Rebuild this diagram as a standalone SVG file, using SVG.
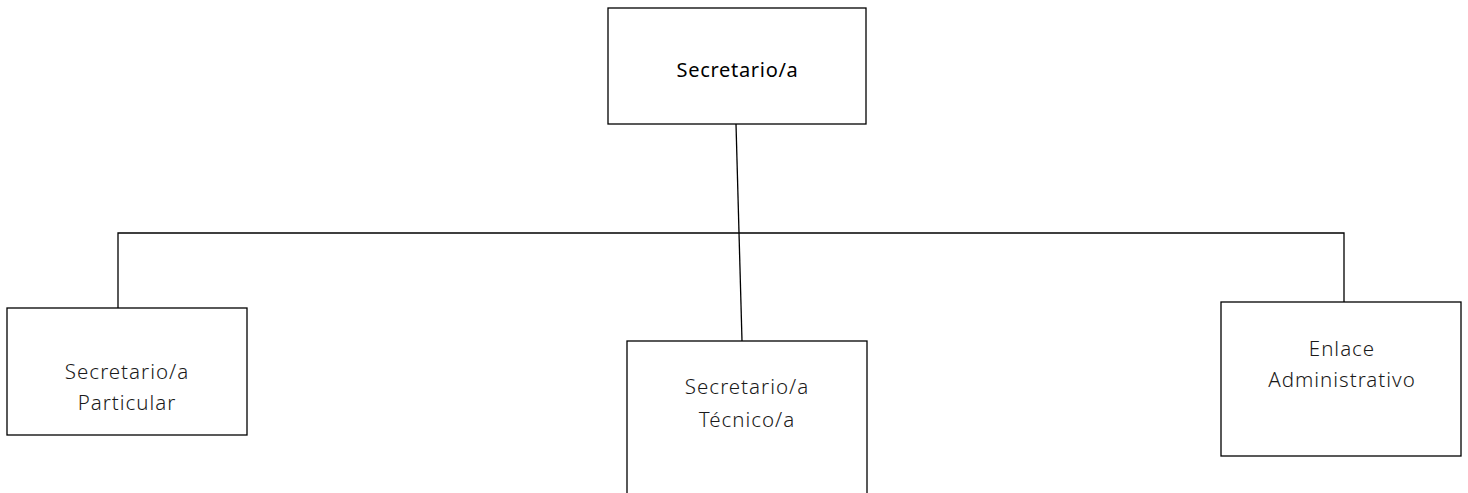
<svg xmlns="http://www.w3.org/2000/svg" width="1468" height="493" viewBox="0 0 1468 493">
<style>
.box{fill:#fff;stroke:#000;stroke-width:1.3}
.ln{fill:none;stroke:#000;stroke-width:1.3}
.t{font-family:"Noto Sans",Lato,sans-serif;font-size:20.5px;letter-spacing:1px;fill:#1a1a1a;text-anchor:middle;font-weight:300}
.tb{font-family:"Noto Sans",Lato,sans-serif;font-size:20px;letter-spacing:0.7px;fill:#000;text-anchor:middle;font-weight:400}
</style>
<rect width="1468" height="493" fill="#fff"/>
<g id="connectors">
<line class="ln" x1="736" y1="124" x2="742" y2="341"/>
<polyline class="ln" points="118,308 118,233 1344,233 1344,302"/>
</g>
<g id="n-secretario">
<rect class="box" x="608" y="8" width="258" height="116"/>
<text class="tb" x="737.5" y="77">Secretario/a</text>
</g>
<g id="n-particular">
<rect class="box" x="7" y="308" width="240" height="127"/>
<text class="t" x="127" y="379">Secretario/a</text>
<text class="t" x="127" y="410">Particular</text>
</g>
<g id="n-tecnico">
<rect class="box" x="627" y="341" width="240" height="170"/>
<text class="t" x="747" y="394">Secretario/a</text>
<text class="t" x="747" y="427">Técnico/a</text>
</g>
<g id="n-enlace">
<rect class="box" x="1221" y="302" width="240" height="154"/>
<text class="t" x="1342" y="356">Enlace</text>
<text class="t" x="1342" y="387">Administrativo</text>
</g>
</svg>
